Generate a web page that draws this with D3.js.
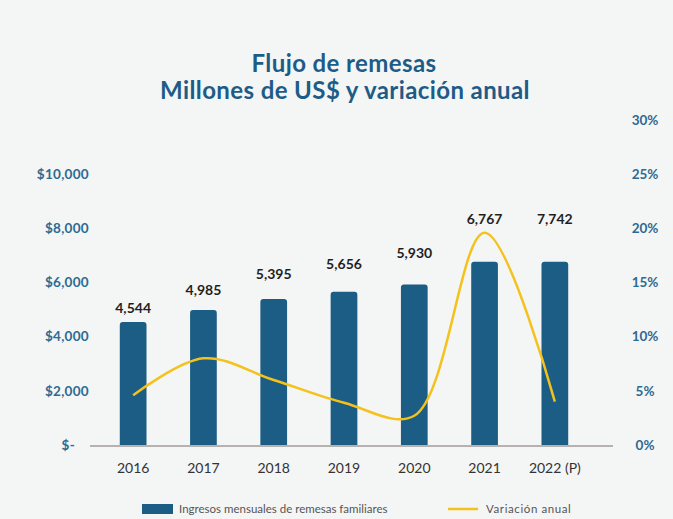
<!DOCTYPE html>
<html>
<head>
<meta charset="utf-8">
<style>
  body { margin: 0; background: #f4f5f5; }
  svg { display: block; font-family: Lato, "Open Sans", sans-serif; }
</style>
</head>
<body>
<div id="chart"></div>
<script src="https://d3js.org/d3.v7.min.js"></script>
<script>
// data
var years = ["2016", "2017", "2018", "2019", "2020", "2021", "2022 (P)"];
var barValues = [4544, 4985, 5395, 5656, 5930, 6767, 6767];   // bar heights as drawn
var barLabels = [4544, 4985, 5395, 5656, 5930, 6767, 7742];   // printed values
var variation = [4.6, 8.0, 6.0, 3.9, 2.7, 19.6, 4.0];          // % annual change
var leftTicks = [0, 2000, 4000, 6000, 8000, 10000];
var rightTicks = [0, 5, 10, 15, 20, 25, 30];

var width = 673, height = 519;
var blue = "#1b5d84", axisBlue = "#2d6a92", yellow = "#f5c11b";

var svg = d3.select("#chart").append("svg")
    .attr("width", width)
    .attr("height", height);

svg.append("rect").attr("width", width).attr("height", height).attr("fill", "#f4f5f5");

// title
var title = svg.append("text")
    .attr("text-anchor", "middle")
    .attr("fill", "#1d5c87")
    .attr("font-weight", "bold")
    .attr("font-size", 24)
    .attr("letter-spacing", 0.4);
title.append("tspan").attr("x", 344).attr("y", 72).text("Flujo de remesas");
title.append("tspan").attr("x", 345).attr("y", 99).text("Millones de US$ y variación anual");

// scales
var x = d3.scaleBand()
    .domain(years)
    .range([98, 590])
    .paddingInner(0.62)
    .paddingOuter(0.31);
var y = d3.scaleLinear().domain([0, 12000]).range([445, 120]);
var yPct = d3.scaleLinear().domain([0, 30]).range([445, 120]);
// the printed values sit on their own staggered scale
var yLabel = d3.scaleLinear().domain([0, 12000]).range([495, 14.5]);

// left axis
var leftAxis = svg.append("g")
    .attr("transform", "translate(89,0)")
    .call(d3.axisLeft(y).tickValues(leftTicks).tickSize(0).tickPadding(0)
      .tickFormat(function(d) { return d === 0 ? "$-" : "$" + d3.format(",")(d); }));
leftAxis.select(".domain").remove();
leftAxis.selectAll("text")
    .attr("fill", axisBlue)
    .attr("font-size", 13.5)
    .attr("font-weight", "bold")
    .attr("font-family", "Lato, sans-serif")
    .attr("letter-spacing", 0.3)
    .attr("dx", function(d) { return d === 0 ? -14 : 0; });

// right axis
var rightAxis = svg.append("g")
    .attr("transform", "translate(645,0)")
    .call(d3.axisRight(yPct).tickValues(rightTicks).tickSize(0).tickPadding(0)
      .tickFormat(function(d) { return d + "%"; }));
rightAxis.select(".domain").remove();
rightAxis.selectAll("text")
    .attr("text-anchor", "middle")
    .attr("fill", axisBlue)
    .attr("font-size", 13.5)
    .attr("font-weight", "bold")
    .attr("font-family", "Lato, sans-serif");

// bars with rounded tops
var r = 3;
svg.selectAll(".bar")
    .data(barValues)
  .enter().append("path")
    .attr("class", "bar")
    .attr("fill", blue)
    .attr("d", function(d, i) {
      var x0 = x(years[i]), w = x.bandwidth(), top = y(d), bot = y(0);
      return "M" + x0 + "," + bot + "V" + (top + r) +
        "Q" + x0 + "," + top + " " + (x0 + r) + "," + top +
        "H" + (x0 + w - r) +
        "Q" + (x0 + w) + "," + top + " " + (x0 + w) + "," + (top + r) +
        "V" + bot + "Z";
    });

// baseline
svg.append("line")
    .attr("x1", 90).attr("x2", 613)
    .attr("y1", 446).attr("y2", 446)
    .attr("stroke", "#a39a98")
    .attr("stroke-width", 1.5);

// value labels
svg.selectAll(".val")
    .data(barLabels)
  .enter().append("text")
    .attr("class", "val")
    .attr("x", function(d, i) { return x(years[i]) + x.bandwidth() / 2; })
    .attr("y", function(d, i) { return yLabel(barValues[i]); })
    .attr("text-anchor", "middle")
    .attr("font-size", 14)
    .attr("font-weight", "bold")
    .attr("fill", "#1f1f1f")
    .text(function(d) { return d3.format(",")(d); });

// variation line
var line = d3.line()
    .x(function(d, i) { return x(years[i]) + x.bandwidth() / 2; })
    .y(function(d) { return yPct(d); })
    .curve(d3.curveCatmullRom.alpha(0.5));
svg.append("path")
    .datum(variation)
    .attr("fill", "none")
    .attr("stroke", yellow)
    .attr("stroke-width", 2.5)
    .attr("d", line);

// x labels
svg.selectAll(".year")
    .data(years)
  .enter().append("text")
    .attr("class", "year")
    .attr("x", function(d) { return x(d) + x.bandwidth() / 2; })
    .attr("y", 473)
    .attr("text-anchor", "middle")
    .attr("font-size", 14)
    .attr("fill", "#333")
    .text(function(d) { return d; });

// legend
var legend = svg.append("g");
legend.append("rect")
    .attr("x", 142).attr("y", 504).attr("width", 31).attr("height", 10)
    .attr("fill", blue);
legend.append("text")
    .attr("x", 179).attr("y", 513)
    .attr("font-size", 11.5)
    .attr("fill", "#555")
    .text("Ingresos mensuales de remesas familiares");
legend.append("line")
    .attr("x1", 448).attr("x2", 478).attr("y1", 509).attr("y2", 509)
    .attr("stroke", yellow).attr("stroke-width", 2.5);
legend.append("text")
    .attr("x", 486).attr("y", 513)
    .attr("font-size", 11.5)
    .attr("letter-spacing", 0.6)
    .attr("fill", "#555")
    .text("Variación anual");
</script>
</body>
</html>
